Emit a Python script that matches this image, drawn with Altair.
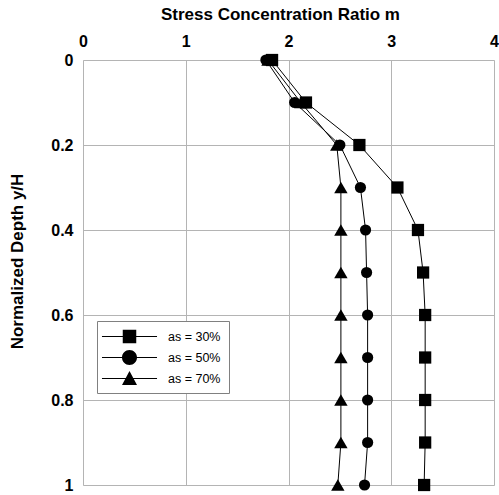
import altair as alt
import pandas as pd

depth = [0.0, 0.1, 0.2, 0.3, 0.4, 0.5, 0.6, 0.7, 0.8, 0.9, 1.0]
as30 = [1.84, 2.17, 2.69, 3.06, 3.26, 3.31, 3.33, 3.33, 3.33, 3.33, 3.32]
as50 = [1.78, 2.06, 2.50, 2.70, 2.75, 2.76, 2.77, 2.77, 2.77, 2.77, 2.74]
as70 = [1.80, 2.12, 2.47, 2.51, 2.51, 2.51, 2.51, 2.51, 2.51, 2.51, 2.48]
series_names = ["as = 30%", "as = 50%", "as = 70%"]
x_ticks = [0, 1, 2, 3, 4]
y_ticks = [0, 0.2, 0.4, 0.6, 0.8, 1.0]

rows = []
for name, vals in zip(series_names, [as30, as50, as70]):
    for d, v in zip(depth, vals):
        rows.append({"series": name, "depth": d, "m": v})
df = pd.DataFrame(rows)

FONT = "Liberation Sans"

x_enc = alt.X("m:Q", scale=alt.Scale(domain=[0, 4], nice=False),
              axis=alt.Axis(orient="top", values=x_ticks, title="Stress Concentration Ratio m",
                            labelExpr="format(datum.value, '~g')", labelFlush=False,
                            labelFont=FONT, labelFontSize=16, labelFontWeight="bold", labelColor="black",
                            labelPadding=11, ticks=False, domain=False,
                            titleFont=FONT, titleFontSize=17, titleFontWeight="bold", titleColor="black",
                            titleX=197, titleY=-46, titleAlign="center", titleBaseline="middle",
                            grid=True, gridColor="#b4b4b4", gridWidth=1))
y_enc = alt.Y("depth:Q", scale=alt.Scale(domain=[0, 1], reverse=True, nice=False),
              axis=alt.Axis(values=y_ticks, title="Normalized Depth y/H", labelExpr="format(datum.value, '~g')",
                            labelFlush=False,
                            labelFont=FONT, labelFontSize=16, labelFontWeight="bold", labelColor="black",
                            labelPadding=10, ticks=False, domain=False,
                            titleFont=FONT, titleFontSize=17, titleFontWeight="bold", titleColor="black",
                            titleX=-66, titleY=201, titleAlign="center", titleBaseline="middle", titleAngle=270,
                            grid=True, gridColor="#b4b4b4", gridWidth=1))

base = alt.Chart(df)

lines = base.mark_line(color="black", strokeWidth=1).encode(
    x=x_enc, y=y_enc, detail="series:N", order="depth:Q")

shapes = {"as = 30%": ("square", 150), "as = 50%": ("circle", 125), "as = 70%": ("triangle-up", 180)}
point_layers = []
for name in series_names:
    shp, sz = shapes[name]
    point_layers.append(
        base.transform_filter(alt.datum.series == name).mark_point(
            shape=shp, size=sz, filled=True, color="black", opacity=1
        ).encode(x="m:Q", y="depth:Q")
    )

LINE = "M-3.67,-0.067H3.67V0.067H-3.67Z"
legend_paths = [
    LINE + "M-0.9,-0.9H0.9V0.9H-0.9Z",
    LINE + "M1,0A1,1,0,1,1,-1,0A1,1,0,1,1,1,0Z",
    LINE + "M0,-1L1,0.85L-1,0.85Z",
]
legend_layer = base.transform_filter(alt.datum.series == "none").mark_point(
    filled=True, color="black", opacity=1, size=225
).encode(
    x="m:Q", y="depth:Q",
    shape=alt.Shape("series:N", scale=alt.Scale(domain=series_names, range=legend_paths),
                    legend=alt.Legend(title=None, orient="none", legendX=14, legendY=261,
                                      direction="vertical",
                                      labelFont=FONT, labelFontSize=12.5, labelColor="black",
                                      symbolSize=225, symbolStrokeWidth=0,
                                      symbolFillColor="black",
                                      symbolOffset=17, labelOffset=31, rowPadding=6,
                                      padding=8, strokeColor="#808080", fillColor="white"))
)

chart = alt.layer(lines, *point_layers, legend_layer).properties(
    width=411, height=425,
    padding={"left": 83, "top": 60, "right": 5, "bottom": 10},
    autosize=alt.AutoSizeParams(type="none"),
).configure_view(stroke="black", strokeWidth=1.2).configure(background="white")

chart.save("out.html", embed_options={"renderer": "svg", "actions": False})
